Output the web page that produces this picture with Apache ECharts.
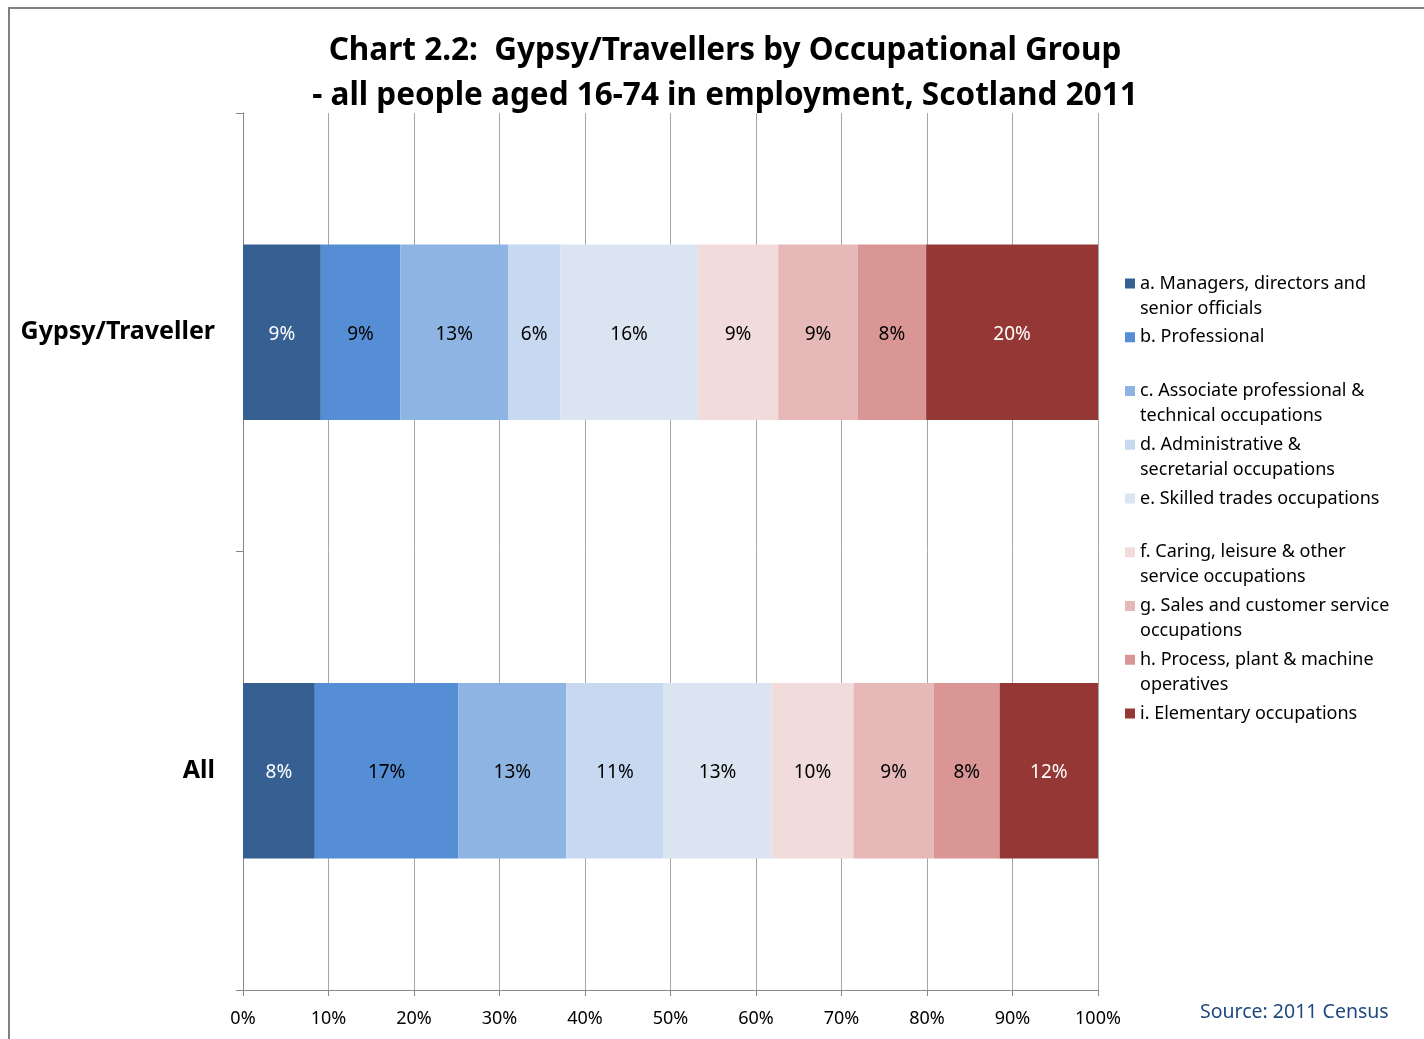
<!DOCTYPE html>
<html>
<head>
<meta charset="utf-8">
<script src="https://cdn.jsdelivr.net/npm/echarts@6/dist/echarts.min.js"></script>
<style>
  html, body { margin: 0; padding: 0; background: #fff; }
  #chart { width: 1424px; height: 1039px; }
</style>
</head>
<body>
<div id="chart"></div>
<script>
// categories (top to bottom)
var groups = ["Gypsy/Traveller", "All"];

// occupational groups, in stacking order
var occupations = [
  "a. Managers, directors and senior officials",
  "b. Professional",
  "c. Associate professional & technical occupations",
  "d. Administrative & secretarial occupations",
  "e. Skilled trades occupations",
  "f. Caring, leisure & other service occupations",
  "g. Sales and customer service occupations",
  "h. Process, plant & machine operatives",
  "i. Elementary occupations"
];

// wrapped legend text (first line blank so the icon sits beside line one)
var legendText = [
  " \na. Managers, directors and\nsenior officials",
  " \nb. Professional\n ",
  " \nc. Associate professional &\ntechnical occupations",
  " \nd. Administrative &\nsecretarial occupations",
  " \ne. Skilled trades occupations\n ",
  " \nf. Caring, leisure & other\nservice occupations",
  " \ng. Sales and customer service\noccupations",
  " \nh. Process, plant & machine\noperatives",
  " \ni. Elementary occupations\n "
];

// percent shares, one value per group
var gypsyShare = [9.1, 9.3, 12.6, 6.1, 16.1, 9.4, 9.3, 8.0, 20.1];
var allShare = [8.4, 16.8, 12.6, 11.4, 12.6, 9.6, 9.4, 7.7, 11.5];

var xTicks = [0, 10, 20, 30, 40, 50, 60, 70, 80, 90, 100];

var colors = ["#376092", "#558ED5", "#8EB4E3", "#C6D9F1", "#DBE5F1",
              "#F2DCDB", "#E6B9B8", "#D99694", "#953735"];
var labelColors = ["#fff", "#000", "#000", "#000", "#000", "#000", "#000", "#000", "#fff"];

var font = "'Noto Sans', 'Open Sans', sans-serif";

var series = occupations.map(function (name, i) {
  return {
    name: name,
    type: "bar",
    stack: "total",
    barWidth: "40%",
    itemStyle: { color: colors[i] },
    label: {
      show: true,
      position: "inside",
      offset: [0, 2],
      color: labelColors[i],
      fontSize: 19,
      fontFamily: font,
      formatter: function (p) {
        return Math.round(p.value) + "%";
      }
    },
    data: [gypsyShare[i], allShare[i]]
  };
});

var ec = echarts.init(document.getElementById("chart"));
ec.setOption({
  animation: false,
  textStyle: { fontFamily: font },
  graphic: [
    {
      type: "rect",
      shape: { x: 9, y: 8, width: 1450, height: 1070 },
      style: { fill: "none", stroke: "#808080", lineWidth: 2 },
      silent: true
    }
  ],
  title: [
    {
      text: "Chart 2.2:  Gypsy/Travellers by Occupational Group\n- all people aged 16-74 in employment, Scotland 2011",
      left: 720,
      top: 24,
      textAlign: "center",
      textStyle: {
        fontSize: 31.5,
        fontWeight: "bold",
        color: "#000",
        lineHeight: 45,
        fontFamily: font
      }
    },
    {
      text: "Source: 2011 Census",
      left: 1195,
      top: 997,
      textStyle: {
        fontSize: 19.5,
        fontWeight: "normal",
        color: "#1F497D",
        fontFamily: font
      }
    }
  ],
  legend: {
    orient: "vertical",
    left: 1125,
    top: 246,
    padding: 0,
    itemGap: -21.25,
    itemWidth: 10,
    itemHeight: 10,
    icon: "rect",
    data: occupations,
    formatter: function (name) {
      return legendText[occupations.indexOf(name)];
    },
    textStyle: {
      fontSize: 18,
      lineHeight: 25,
      color: "#000",
      fontFamily: font
    }
  },
  grid: {
    left: 243,
    right: 326,
    top: 113,
    bottom: 49
  },
  xAxis: {
    type: "value",
    min: xTicks[0],
    max: xTicks[xTicks.length - 1],
    interval: 10,
    axisLine: { show: true, lineStyle: { color: "#868686", width: 1 } },
    axisTick: { show: true, length: 6, lineStyle: { color: "#868686" } },
    splitLine: { show: true, lineStyle: { color: "#A6A6A6", width: 1 } },
    axisLabel: {
      formatter: "{value}%",
      fontSize: 18,
      color: "#000",
      margin: 20,
      fontFamily: font
    }
  },
  yAxis: {
    type: "category",
    inverse: true,
    data: groups,
    axisLine: { show: true, lineStyle: { color: "#868686", width: 1 } },
    axisTick: { show: true, length: 7, lineStyle: { color: "#868686" } },
    axisLabel: {
      fontSize: 25,
      fontWeight: "bold",
      color: "#000",
      margin: 28,
      padding: [5, 0, 0, 0],
      fontFamily: font
    }
  },
  series: series
});
</script>
</body>
</html>
